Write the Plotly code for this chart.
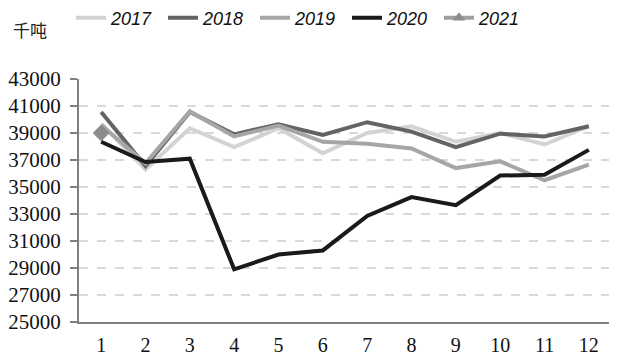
import plotly.graph_objects as go

months = [1, 2, 3, 4, 5, 6, 7, 8, 9, 10, 11, 12]
v2017 = [39700, 36300, 39350, 37950, 39350, 37500, 39000, 39500, 38350, 39000, 38150, 39500]
v2018 = [40550, 36550, 40550, 38900, 39650, 38850, 39800, 39100, 37950, 38950, 38750, 39500]
v2019 = [39600, 36750, 40600, 38750, 39550, 38350, 38200, 37850, 36400, 36900, 35500, 36650]
v2020 = [38350, 36850, 37100, 28900, 30000, 30300, 32850, 34250, 33650, 35850, 35900, 37750]
v2021 = [39000]
m2021 = [1]
yticks = [25000, 27000, 29000, 31000, 33000, 35000, 37000, 39000, 41000, 43000]

W, H = 617, 362
OFF = 8  # page body margin
L, T, R, B = 79 - OFF, 79 - OFF, 6 + OFF, 40 + OFF
PW, PH = W - L - R, H - T - B

fig = go.Figure()
series = [("2017", v2017, "#d3d3d3"), ("2018", v2018, "#646464"),
          ("2019", v2019, "#a6a6a6"), ("2020", v2020, "#1a1a1a")]
for name, vals, col in series:
    fig.add_trace(go.Scatter(x=months, y=vals, name=name, mode="lines",
                             line=dict(color=col, width=4)))
fig.add_trace(go.Scatter(x=m2021, y=v2021, name="2021", mode="markers",
                         marker=dict(symbol="diamond", size=13, color="#8c8c8c"),
                         showlegend=False))
fig.add_trace(go.Scatter(x=[None], y=[None], name="2021", mode="lines+markers",
                         line=dict(color="#a0a0a0", width=4),
                         marker=dict(symbol="triangle-up", size=11, color="#8c8c8c")))

fig.update_layout(
    width=W, height=H,
    margin=dict(l=L, r=R, t=T, b=B, autoexpand=False),
    paper_bgcolor="white", plot_bgcolor="white",
    showlegend=True,
    legend=dict(orientation="h", xref="container", yref="container",
                x=63/W, xanchor="left", y=1 - 10/H, yanchor="middle",
                font=dict(family="Liberation Sans", size=18, color="#111", style="italic"),
                entrywidth=47, entrywidthmode="pixels",
                traceorder="normal", bgcolor="rgba(0,0,0,0)"),
)
fig.add_annotation(text="千吨", xref="paper", yref="paper",
                   x=(3 - L)/PW, y=1 + (T - 22)/PH, xanchor="left", yanchor="middle",
                   showarrow=False,
                   font=dict(family="Noto Sans CJK SC", size=17, color="#222"))

fig.update_xaxes(type="linear", range=[0.5, 12.5], tickmode="array", tickvals=months,
                 ticktext=[str(m) for m in months], showgrid=False,
                 showline=True, linecolor="#808080", linewidth=2, ticks="",
                 ticklabelstandoff=4,
                 tickfont=dict(family="Liberation Serif", size=20, color="#111"),
                 zeroline=False)
fig.update_yaxes(range=[25000, 43000], tickmode="array", tickvals=yticks,
                 ticktext=[str(v) for v in yticks],
                 showgrid=True, gridcolor="#d9d9d9", griddash="dash", gridwidth=1.5,
                 showline=True, linecolor="#808080", linewidth=2,
                 ticks="outside", ticklen=7, tickcolor="#808080", tickwidth=2,
                 ticklabelstandoff=5,
                 tickfont=dict(family="Liberation Serif", size=21, color="#111"),
                 zeroline=False)

fig.write_html("out.html")
